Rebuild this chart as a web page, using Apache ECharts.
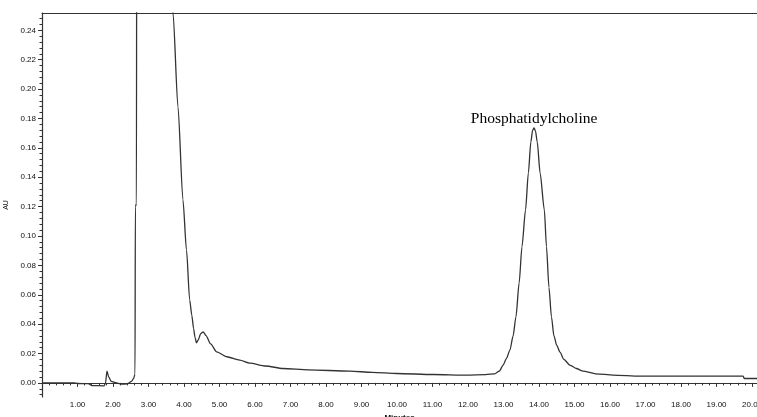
<!DOCTYPE html>
<html>
<head>
<meta charset="utf-8">
<script src="https://cdn.jsdelivr.net/npm/echarts@6/dist/echarts.min.js"></script>
<style>
html,body{margin:0;padding:0;background:#fff;}
#chart{width:757px;height:417px;}
</style>
</head>
<body>
<div id="chart"></div>
<script>
// Retention time (minutes)
var times = [0.00, 0.50, 0.90, 1.00, 1.30, 1.40, 1.75, 1.79, 1.83, 1.88, 1.95, 2.10, 2.25, 2.40, 2.52, 2.58, 2.62,
  2.63, 2.66, 2.67, 2.70, 3.10, 3.55, 3.69, 3.83, 3.97, 4.07, 4.16, 4.22, 4.27, 4.31, 4.35, 4.40, 4.47, 4.54, 4.62, 4.75,
  4.92, 5.20, 5.57, 5.85, 6.30, 6.79, 7.50, 8.67, 9.30, 9.99, 11.02, 11.96, 12.50, 12.75, 12.88, 12.99, 13.08,
  13.18, 13.27, 13.35, 13.44, 13.52, 13.62, 13.70, 13.77, 13.82, 13.86, 13.90, 13.95, 14.03, 14.15, 14.21, 14.28,
  14.35, 14.42, 14.50, 14.59, 14.70, 14.87, 15.05, 15.24, 15.60, 16.09, 16.84, 19.75, 19.78, 20.14];
// Absorbance (AU)
var absorbance = [0.0000, 0.0000, 0.0000, -0.0004, -0.0005, -0.0018, -0.0020, 0.0000, 0.0080, 0.0040, 0.0010, 0.0000,
  -0.0009, -0.0007, 0.0010, 0.0030, 0.0060, 0.1200, 0.1220, 0.4000, 0.6000, 1.2000, 0.3200, 0.2518, 0.1880,
  0.1246, 0.0905, 0.0564, 0.0460, 0.0370, 0.0310, 0.0273, 0.0292, 0.0335, 0.0348, 0.0322, 0.0265, 0.0211, 0.0178,
  0.0155, 0.0135, 0.0115, 0.0098, 0.0089, 0.0080, 0.0072, 0.0064, 0.0057, 0.0053, 0.0056, 0.0062, 0.0080,
  0.0121, 0.0165, 0.0223, 0.0320, 0.0450, 0.0680, 0.0928, 0.1178, 0.1430, 0.1640, 0.1720, 0.1735, 0.1715, 0.1640,
  0.1430, 0.1178, 0.0928, 0.0650, 0.0450, 0.0320, 0.0255, 0.0210, 0.0160, 0.0121, 0.0098, 0.0080, 0.0062, 0.0053,
  0.0046, 0.0046, 0.0030, 0.0030];
// Tick labels
var xTickValues = [1,2,3,4,5,6,7,8,9,10,11,12,13,14,15,16,17,18,19,20];
var yTickValues = [0.00,0.02,0.04,0.06,0.08,0.10,0.12,0.14,0.16,0.18,0.20,0.22,0.24];
var peakLabel = 'Phosphatidylcholine';
var peakTime = 13.86;
var peakValue = 0.1735;

var X_MIN = 0, X_MAX = 20.14, Y_MIN = -0.0096, Y_MAX = 0.2518;
// minor-tick axis of the second grid (min a multiple of its interval)
var Y_MINOR_MIN = -0.008, Y_MINOR_MAX = 0.248, Y_MINOR_STEP = 0.004;

var data = times.map(function (t, k) { return [t, absorbance[k]]; });

var axisColor = '#333';
var labelStyle = { fontFamily: 'Liberation Sans, Arial, sans-serif', fontSize: 8, color: '#111' };

var W = 757, H = 417;
var mainGrid = { left: 42, right: 0, top: 13, bottom: 20, containLabel: false, outerBoundsMode: 'none' };
// second grid sized so that its value range maps onto the same pixel scale as the main grid
var pxPerUnit = (H - mainGrid.top - mainGrid.bottom) / (Y_MAX - Y_MIN);
var zeroY = mainGrid.top + Y_MAX * pxPerUnit;
var minorGrid = {
  left: 42, right: 0,
  top: zeroY - Y_MINOR_MAX * pxPerUnit,
  bottom: H - (zeroY - Y_MINOR_MIN * pxPerUnit),
  containLabel: false, outerBoundsMode: 'none'
};

var chart = echarts.init(document.getElementById('chart'), null, { renderer: 'canvas' });
chart.setOption({
  animation: false,
  backgroundColor: '#fff',
  grid: [mainGrid, minorGrid],
  xAxis: [
    {
      gridIndex: 0, type: 'value', min: X_MIN, max: X_MAX, interval: 1, position: 'bottom',
      name: 'Minutes', nameLocation: 'middle', nameGap: 14,
      nameTextStyle: { fontFamily: 'Liberation Sans, Arial, sans-serif', fontSize: 8, fontWeight: 'bold', color: '#111' },
      axisLine: { show: true, lineStyle: { color: axisColor, width: 1.2 } },
      axisTick: { show: true, inside: false, length: 4, lineStyle: { color: axisColor } },
      minorTick: { show: true, splitNumber: 5, length: 2.5, lineStyle: { color: axisColor, width: 1 } },
      axisLabel: Object.assign({ show: true, margin: 4, customValues: xTickValues,
        formatter: function (v) { return v.toFixed(2); } }, labelStyle),
      splitLine: { show: false }
    },
    {
      gridIndex: 0, type: 'value', min: X_MIN, max: X_MAX, position: 'top',
      axisLine: { show: true, lineStyle: { color: axisColor, width: 1.2 } },
      axisTick: { show: false }, axisLabel: { show: false }, splitLine: { show: false }
    },
    {
      gridIndex: 1, type: 'value', min: X_MIN, max: X_MAX, position: 'bottom', show: false
    }
  ],
  yAxis: [
    {
      gridIndex: 0, type: 'value', min: Y_MIN, max: Y_MAX, position: 'left',
      name: 'AU', nameLocation: 'middle', nameGap: 32, nameRotate: 90,
      nameTextStyle: { fontFamily: 'Liberation Sans, Arial, sans-serif', fontSize: 7, color: '#111' },
      axisLine: { show: true, lineStyle: { color: axisColor, width: 1.2 } },
      axisTick: { show: true, inside: false, length: 4, customValues: yTickValues, lineStyle: { color: axisColor } },
      axisLabel: Object.assign({ show: true, margin: 6, customValues: yTickValues,
        formatter: function (v) { return v.toFixed(2); } }, labelStyle),
      splitLine: { show: false }
    },
    {
      gridIndex: 1, type: 'value', min: Y_MINOR_MIN, max: Y_MINOR_MAX, interval: Y_MINOR_STEP, position: 'left',
      axisLine: { show: false },
      axisTick: { show: true, inside: false, length: 2.5, interval: 0, lineStyle: { color: axisColor, width: 1 } },
      axisLabel: { show: false },
      splitLine: { show: false }
    }
  ],
  series: [
    {
      type: 'line', xAxisIndex: 0, yAxisIndex: 0, data: data,
      showSymbol: false, symbol: 'none', smooth: 0.25, smoothMonotone: 'x', clip: true,
      lineStyle: { color: '#333', width: 1.3 },
      markPoint: {
        symbol: 'circle', symbolSize: 0, silent: true,
        data: [{ coord: [peakTime, peakValue] }],
        label: {
          show: true, position: 'top', distance: 1, formatter: peakLabel,
          fontFamily: 'Liberation Serif, Times New Roman, serif', fontSize: 15.5, color: '#000'
        }
      }
    },
    {
      // invisible copy that keeps the minor-tick axes of the second grid active
      type: 'line', xAxisIndex: 2, yAxisIndex: 1, data: data,
      showSymbol: false, symbol: 'none', silent: true, clip: true,
      lineStyle: { opacity: 0, width: 0 }
    }
  ]
});
</script>
</body>
</html>
